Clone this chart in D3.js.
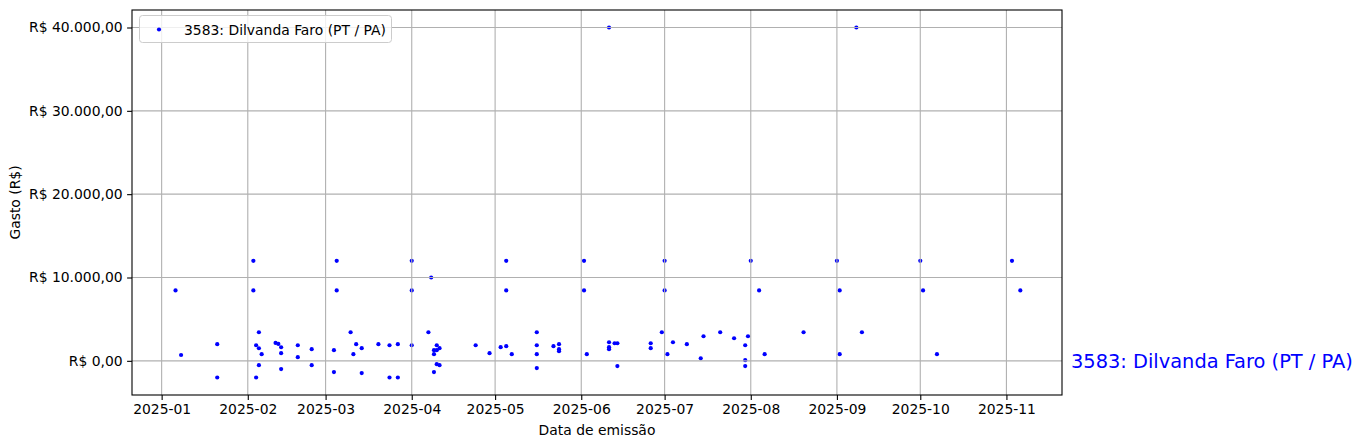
<!DOCTYPE html>
<html><head><meta charset="utf-8">
<script src="https://cdn.jsdelivr.net/npm/d3@7"></script>
<style>body{margin:0;background:#fff}svg{display:block;font-family:"DejaVu Sans",sans-serif}</style>
</head><body><svg id="c" width="1363" height="448"></svg>
<script>
const seriesName = "3583: Dilvanda Faro (PT / PA)";
const dates = [
"2025-01-06","2025-01-08","2025-01-21","2025-01-21",
"2025-02-03","2025-02-03","2025-02-05","2025-02-04","2025-02-05","2025-02-06","2025-02-05","2025-02-04",
"2025-02-11","2025-02-12","2025-02-13","2025-02-13","2025-02-13","2025-02-19","2025-02-19","2025-02-24","2025-02-24",
"2025-03-05","2025-03-05","2025-03-04","2025-03-04","2025-03-10","2025-03-11","2025-03-12","2025-03-14","2025-03-14",
"2025-03-20","2025-03-24","2025-03-24","2025-03-27","2025-03-27",
"2025-04-01","2025-04-01","2025-04-01","2025-04-08","2025-04-07","2025-04-09","2025-04-09","2025-04-09",
"2025-04-10","2025-04-10","2025-04-10","2025-04-11","2025-04-11","2025-04-24","2025-04-29",
"2025-05-03","2025-05-05","2025-05-05","2025-05-05","2025-05-07","2025-05-16","2025-05-16","2025-05-16","2025-05-16",
"2025-05-22","2025-05-24","2025-05-24","2025-05-24",
"2025-06-02","2025-06-02","2025-06-03","2025-06-11","2025-06-11","2025-06-11","2025-06-11","2025-06-13","2025-06-14","2025-06-14",
"2025-06-26","2025-06-26","2025-06-30",
"2025-07-01","2025-07-01","2025-07-02","2025-07-04","2025-07-09","2025-07-14","2025-07-15","2025-07-21","2025-07-26",
"2025-07-30","2025-07-30","2025-07-30","2025-07-31",
"2025-08-01","2025-08-04","2025-08-06","2025-08-20",
"2025-09-01","2025-09-02","2025-09-02","2025-09-08","2025-09-10",
"2025-10-01","2025-10-02","2025-10-07",
"2025-11-03","2025-11-06"
];
const values = [
8450,700,2000,-2000,
12000,8450,3430,1870,1510,800,-520,-2000,
2150,2030,1630,920,-990,1870,440,1400,-520,
12000,8450,1280,-1350,3430,800,2000,1520,-1470,
2000,1870,-2000,2000,-2000,
12000,8450,1870,10000,3430,1280,800,-1350,
1870,1280,-400,1520,-520,1870,920,
1640,1760,12000,8450,800,3430,1870,800,-870,
1760,2000,1400,1160,
12000,8450,800,40000,2230,1640,1400,2110,2110,-630,
2110,1520,3430,
12000,8450,800,2230,2000,300,2950,3430,2710,
1870,80,-630,2950,
12000,8450,800,3430,
12000,8450,800,40000,3430,
12000,8450,800,
12000,8450
];
const yTicks = [0,10000,20000,30000,40000];
const xTickDates = ["2025-01-01","2025-02-01","2025-03-01","2025-04-01","2025-05-01","2025-06-01","2025-07-01","2025-08-01","2025-09-01","2025-10-01","2025-11-01"];
const xLabel = "Data de emissão";
const yLabel = "Gasto (R$)";

const svg = d3.select("#c");
const L=132, T=10, R=1062, B=395;
const parse = d3.utcParse("%Y-%m-%d");
const x = d3.scaleUtc().domain([new Date(Date.UTC(2024,11,21,8)), new Date(Date.UTC(2025,10,21,0))]).range([L,R]);
const y = d3.scaleLinear().domain([-4100,42100]).range([B,T]);
const fmtBR = v => "R$ " + d3.format(",.2f")(v).replace(/,/g,"#").replace(/\./g,",").replace(/#/g,".");
const FS = "13.9px";

const pts = dates.map((d,i)=>({d:parse(d), v:values[i]}));
svg.append("g").selectAll("circle").data(pts).join("circle")
  .attr("cx",p=>x(p.d)).attr("cy",p=>y(p.v)).attr("r",2.1).attr("fill","#0000ff");

// grid on top of points (matplotlib default zorder)
const g = svg.append("g").attr("stroke","#b0b0b0").attr("stroke-width",1.1);
xTickDates.forEach(s=>{const xx=x(parse(s)); g.append("line").attr("x1",xx).attr("x2",xx).attr("y1",T).attr("y2",B);});
yTicks.forEach(v=>{const yy=y(v); g.append("line").attr("x1",L).attr("x2",R).attr("y1",yy).attr("y2",yy);});

const xAxis = d3.axisBottom(x).tickValues(xTickDates.map(parse)).tickFormat(d3.utcFormat("%Y-%m")).tickSize(4.9).tickPadding(4.5);
const yAxis = d3.axisLeft(y).tickValues(yTicks).tickFormat(fmtBR).tickSize(4.9).tickPadding(4.5);
const gx = svg.append("g").attr("transform",`translate(0,${B})`).call(xAxis);
const gy = svg.append("g").attr("transform",`translate(${L},0)`).call(yAxis);
[gx,gy].forEach(a=>{a.select(".domain").remove(); a.selectAll("line").attr("stroke","#000").attr("stroke-width",1.1);
  a.selectAll("text").attr("font-size",FS).attr("fill","#000").attr("font-family","DejaVu Sans");});

svg.append("rect").attr("x",L).attr("y",T).attr("width",R-L).attr("height",B-T).attr("fill","none").attr("stroke","#000").attr("stroke-width",1.1);

svg.append("text").attr("x",(L+R)/2).attr("y",435).attr("text-anchor","middle").attr("font-size",FS).text(xLabel);
svg.append("text").attr("transform",`translate(20,${(T+B)/2}) rotate(-90)`).attr("text-anchor","middle").attr("font-size",FS).text(yLabel);

// legend
svg.append("rect").attr("x",139.5).attr("y",15.5).attr("width",252).attr("height",27).attr("rx",3)
  .attr("fill","#fff").attr("fill-opacity",0.8).attr("stroke","#cccccc").attr("stroke-width",1);
svg.append("circle").attr("cx",159).attr("cy",29.5).attr("r",2.1).attr("fill","#0000ff");
svg.append("text").attr("x",184).attr("y",34.5).attr("font-size",FS).text(seriesName);

// right annotation
svg.append("text").attr("x",1071).attr("y",y(0)).attr("dy","0.35em").attr("font-size","19.4px").attr("fill","#0000ff").text(seriesName);
</script></body></html>
